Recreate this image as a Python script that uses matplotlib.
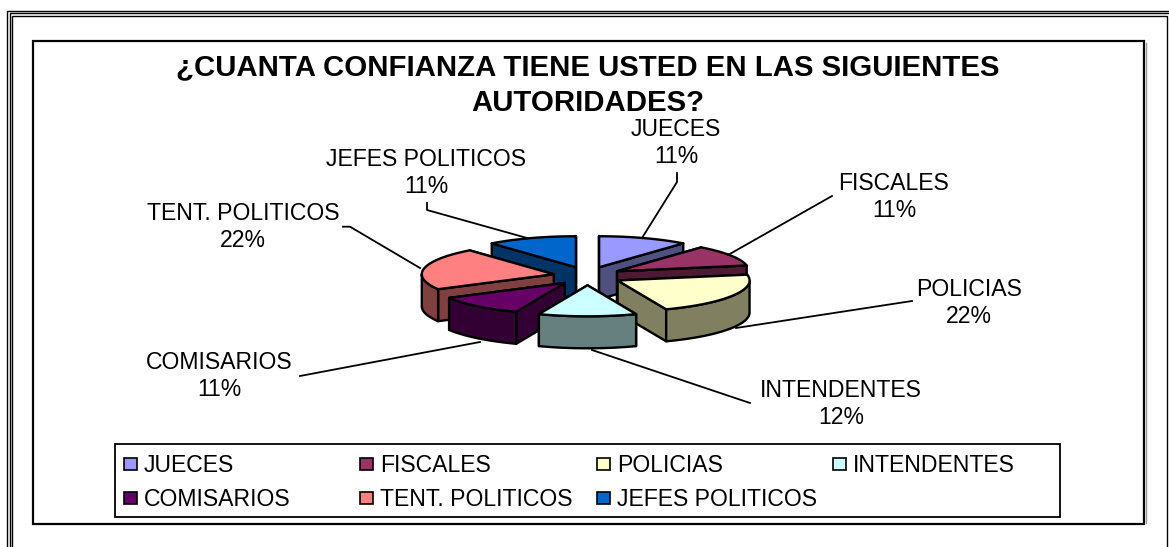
# plot.py
import numpy as np
import matplotlib

matplotlib.use("Agg")

import matplotlib.pyplot as plt
from matplotlib.patches import Polygon, Rectangle

plt.rcParams["font.family"] = ["Liberation Sans", "DejaVu Sans"]

# DATA
categories = ["JUECES", "FISCALES", "POLICIAS", "INTENDENTES",
              "COMISARIOS", "TENT. POLITICOS", "JEFES POLITICOS"]
values = [11, 11, 22, 12, 11, 22, 11]
top_colors = ["#9999FF", "#993366", "#FFFFCC", "#CCFFFF",
              "#660066", "#FF8080", "#0066CC"]
side_colors = ["#50507F", "#4D1A33", "#808060", "#668080",
               "#330033", "#804040", "#003366"]

# layout, in pixels of the 1169x547 picture
label_pos = [(676, 143), (894, 197), (969, 303), (841, 404),
             (219, 376), (243, 227), (426, 173)]
leaders = [[(642, 238), (677, 182), (677, 173)],
           [(728, 255), (832, 196)],
           [(736, 328), (912, 301)],
           [(592, 350), (750, 403)],
           [(480, 342), (300, 376)],
           [(420, 268), (350, 226.7), (343, 226.7)],
           [(527, 238), (427, 210), (427, 203)]]
CX, CY = 587.5, 276
RX, RY = 132, 31
DEPTH = 32
EXPLODE = 0.26, 0.30

fig = plt.figure(figsize=(11.69, 5.47), dpi=100)
ax = fig.add_axes([0, 0, 1, 1])
ax.set_xlim(0, 1169)
ax.set_ylim(547, 0)
ax.axis("off")

# page border, the outer two lines run off the right edge
ax.plot([7, 7, 1169], [547, 10.5, 10.5], color="black", lw=1, solid_joinstyle="miter")
ax.plot([9.5, 9.5, 1169], [547, 13, 13], color="black", lw=1, solid_joinstyle="miter")
ax.plot([12, 12, 1167, 1167], [547, 15.5, 15.5, 547], color="black", lw=1,
        solid_joinstyle="miter")

# chart area with its thin grey shadow
ax.plot([1146, 1146], [43, 523], color="#999999", lw=1)
ax.add_patch(Rectangle((32.5, 41), 1111.5, 483, fc="white", ec="black", lw=1.6))

# title
ax.text(588, 67, "¿CUANTA CONFIANZA TIENE USTED EN LAS SIGUIENTES",
        ha="center", va="center", fontsize=21.2, fontweight="bold")
ax.text(588, 103, "AUTORIDADES?", ha="center", va="center", fontsize=21.2, fontweight="bold")

# leader lines go under the pie
for pts in leaders:
    xs, ys = zip(*pts)
    ax.plot(xs, ys, color="black", lw=1.3)


def ell(apex, th):
    return apex[0] + RX * np.cos(th), apex[1] - RY * np.sin(th)


fractions = np.array(values) / sum(values)
edges = np.pi / 2 - 2 * np.pi * np.concatenate([[0], np.cumsum(fractions)])
mids = (edges[:-1] + edges[1:]) / 2

# back slices first
for i in np.argsort(-np.sin(mids)):
    start, stop = edges[i], edges[i + 1]
    apex = (CX + RX * EXPLODE[0] * np.cos(mids[i]),
            CY - RY * EXPLODE[1] * np.sin(mids[i]))
    th = np.linspace(start, stop, 60)
    ax_, ay_ = ell(apex, th)
    top = np.column_stack([ax_, ay_])

    faces = []
    # straight sides
    for t in (start, stop):
        ex, ey = ell(apex, t)
        faces.append([apex, (ex, ey), (ex, ey + DEPTH), (apex[0], apex[1] + DEPTH)])
    # curved wall, only the part facing us
    front = np.sin(th) < 0
    if front.any():
        arc = top[front]
        faces.append(np.vstack([arc, (arc + [0, DEPTH])[::-1]]))
    faces.sort(key=lambda f: np.mean(np.asarray(f)[:, 1]))

    for f in faces:
        ax.add_patch(Polygon(f, closed=True, fc=side_colors[i], ec="black",
                             lw=1.7, joinstyle="round"))
    ax.add_patch(Polygon(np.vstack([[apex], top]), closed=True, fc=top_colors[i],
                         ec="black", lw=1.7, joinstyle="round"))

# slice labels
for name, val, (x, y) in zip(categories, values, label_pos):
    ax.text(x, y, f"{name}\n{val}%", ha="center", va="center", fontsize=16.6,
            linespacing=1.27)

# legend box
ax.add_patch(Rectangle((115, 444), 945, 73, fc="white", ec="black", lw=1.3))
col_x = [124, 360, 597, 833]
row_y = [465, 499]
for i, name in enumerate(categories):
    x = col_x[i % 4]
    y = row_y[i // 4]
    ax.add_patch(Rectangle((x, y - 7), 13, 12, fc=top_colors[i], ec="black", lw=1.2))
    ax.text(x + 20, y, name, ha="left", va="center", fontsize=16.6)

plt.savefig("out.png", dpi=100)
plt.close()
